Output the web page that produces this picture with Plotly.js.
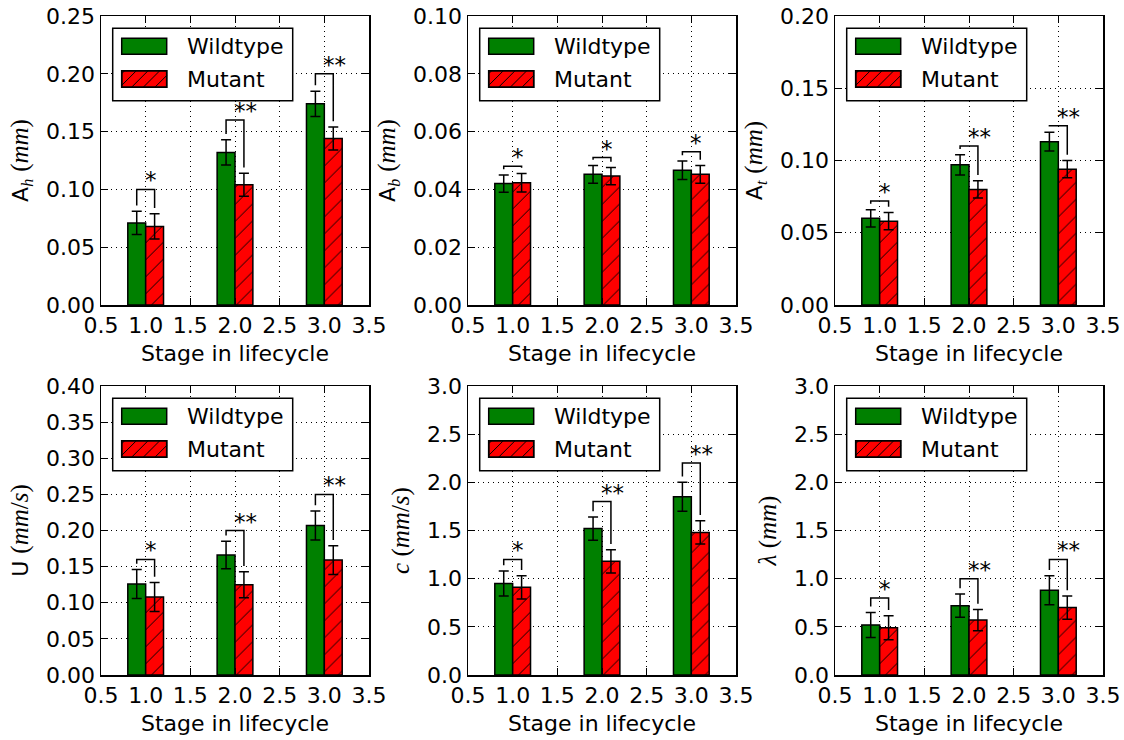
<!DOCTYPE html>
<html><head><meta charset="utf-8">
<script src="https://cdn.plot.ly/plotly-3.0.1.min.js"></script>
<style>html,body{margin:0;padding:0;background:#fff}</style>
</head><body><div id="chart" style="width:1124px;height:740px"></div>
<script>
// ---------------- data ----------------
const stages = [1, 2, 3];
const seriesNames = ['Wildtype', 'Mutant'];
const xTitle = 'Stage in lifecycle';

// Panel 1: A_h (mm)
const ahWild = [0.071, 0.132, 0.174];
const ahWildErr = [0.010, 0.011, 0.011];
const ahMut = [0.068, 0.104, 0.144];
const ahMutErr = [0.011, 0.010, 0.010];
const ahSig = ['*', '**', '**'];
const ahSigLevel = [0.100, 0.160, 0.200];

// Panel 2: A_b (mm)
const abWild = [0.0420, 0.0452, 0.0466];
const abWildErr = [0.0030, 0.0031, 0.0032];
const abMut = [0.0423, 0.0446, 0.0452];
const abMutErr = [0.0032, 0.0030, 0.0031];
const abSig = ['*', '*', '*'];
const abSigLevel = [0.048, 0.051, 0.053];

// Panel 3: A_t (mm)
const atWild = [0.060, 0.097, 0.113];
const atWildErr = [0.006, 0.007, 0.0065];
const atMut = [0.058, 0.080, 0.094];
const atMutErr = [0.006, 0.006, 0.006];
const atSig = ['*', '**', '**'];
const atSigLevel = [0.072, 0.110, 0.124];

// Panel 4: U (mm/s)
const uWild = [0.126, 0.166, 0.207];
const uWildErr = [0.020, 0.019, 0.020];
const uMut = [0.108, 0.125, 0.159];
const uMutErr = [0.020, 0.018, 0.020];
const uSig = ['*', '**', '**'];
const uSigLevel = [0.160, 0.200, 0.250];

// Panel 5: c (mm/s)
const cWild = [0.95, 1.52, 1.85];
const cWildErr = [0.13, 0.12, 0.15];
const cMut = [0.91, 1.18, 1.48];
const cMutErr = [0.12, 0.12, 0.12];
const cSig = ['*', '**', '**'];
const cSigLevel = [1.20, 1.80, 2.20];

// Panel 6: lambda (mm)
const lamWild = [0.52, 0.72, 0.88];
const lamWildErr = [0.13, 0.12, 0.15];
const lamMut = [0.49, 0.57, 0.70];
const lamMutErr = [0.125, 0.11, 0.12];
const lamSig = ['*', '**', '**'];
const lamSigLevel = [0.80, 1.00, 1.20];

// y-axis settings per panel
const yMax = [0.25, 0.10, 0.20, 0.40, 3.0, 3.0];
const yStep = [0.05, 0.02, 0.05, 0.05, 0.5, 0.5];
const yFormat = ['.2f', '.2f', '.2f', '.2f', '.1f', '.1f'];
const M = s => '<span style="font-family:\'Liberation Serif\';font-size:25px">' + s + '</span>';
const Sb = s => '<sub><span style="font-family:\'Liberation Serif\';font-size:16px"><i>' + s + '</i></span></sub>';
const yTitles = [
  'A' + Sb('h') + ' ' + M('(<i>mm</i>)'),
  'A' + Sb('b') + ' ' + M('(<i>mm</i>)'),
  'A' + Sb('t') + ' ' + M('(<i>mm</i>)'),
  'U ' + M('(<i>mm</i>/<i>s</i>)'),
  M('<i>c</i> (<i>mm</i>/<i>s</i>)'),
  M('<i>λ</i> (<i>mm</i>)')
];

const panels = [
  {wild: ahWild, wildErr: ahWildErr, mut: ahMut, mutErr: ahMutErr, sig: ahSig, lvl: ahSigLevel},
  {wild: abWild, wildErr: abWildErr, mut: abMut, mutErr: abMutErr, sig: abSig, lvl: abSigLevel},
  {wild: atWild, wildErr: atWildErr, mut: atMut, mutErr: atMutErr, sig: atSig, lvl: atSigLevel},
  {wild: uWild, wildErr: uWildErr, mut: uMut, mutErr: uMutErr, sig: uSig, lvl: uSigLevel},
  {wild: cWild, wildErr: cWildErr, mut: cMut, mutErr: cMutErr, sig: cSig, lvl: cSigLevel},
  {wild: lamWild, wildErr: lamWildErr, mut: lamMut, mutErr: lamMutErr, sig: lamSig, lvl: lamSigLevel}
];

// ---------------- layout ----------------
const W = 1124, H = 740;
const colsPx = [[101, 369], [468, 736], [835, 1103]];
const rowsPx = [[16, 305], [386, 675]];
const PW = 268, PH = 289;
const FONT = 'DejaVu Sans';
const FS = 22;
const GREEN = '#008000', RED = '#ff0000';

const traces = [];
const shapes = [];
const annotations = [];
const layout = {
  width: W, height: H,
  margin: {l: 0, r: 0, t: 0, b: 0},
  paper_bgcolor: 'white', plot_bgcolor: 'white',
  font: {family: FONT, size: FS, color: 'black'},
  barmode: 'group', bargap: 0.6, bargroupgap: 0,
  showlegend: false
};

function axisCommon() {
  return {
    showline: true, linecolor: 'black', linewidth: 1.5, mirror: 'ticks',
    ticks: 'inside', ticklen: 7, tickwidth: 1, tickcolor: 'black',
    showgrid: true, gridcolor: 'black', gridwidth: 1, griddash: '1px,4px',
    zeroline: false, tickfont: {family: FONT, size: FS, color: 'black'},
    fixedrange: true
  };
}

panels.forEach((p, i) => {
  const col = i % 3, row = Math.floor(i / 3);
  const sfx = i ? String(i + 1) : '';
  const xa = 'x' + sfx, ya = 'y' + sfx;
  traces.push({
    type: 'bar', name: seriesNames[0], x: stages, y: p.wild, xaxis: xa, yaxis: ya,
    marker: {color: GREEN, line: {color: 'black', width: 1.5}},
    error_y: {type: 'data', array: p.wildErr, visible: true, color: 'black', thickness: 1.5, width: 5}
  });
  traces.push({
    type: 'bar', name: seriesNames[1], x: stages, y: p.mut, xaxis: xa, yaxis: ya,
    marker: {color: RED, line: {color: 'black', width: 1.5},
      pattern: {shape: '/', fgcolor: 'black', bgcolor: RED, size: 12, solidity: 0.08, fillmode: 'replace'}},
    error_y: {type: 'data', array: p.mutErr, visible: true, color: 'black', thickness: 1.5, width: 5}
  });

  layout['xaxis' + sfx] = Object.assign(axisCommon(), {
    domain: [colsPx[col][0] / W, colsPx[col][1] / W], anchor: ya,
    range: [0.5, 3.5], tick0: 0.5, dtick: 0.5, tickformat: '.1f',
    title: {text: xTitle, font: {family: FONT, size: FS}, standoff: 8}
  });
  layout['yaxis' + sfx] = Object.assign(axisCommon(), {
    domain: [1 - rowsPx[row][1] / H, 1 - rowsPx[row][0] / H], anchor: xa,
    range: [0, yMax[i]], tick0: 0, dtick: yStep[i], tickformat: yFormat[i],
    title: {text: yTitles[i], font: {family: FONT, size: FS}, standoff: 11}
  });

  // significance brackets
  const gapV = yMax[i] * 0.02;
  stages.forEach((s, j) => {
    const xL = s - 0.1, xR = s + 0.1;
    const L = p.lvl[j];
    const yA = Math.min(p.wild[j] + p.wildErr[j] + gapV, L);
    const yB = Math.min(p.mut[j] + p.mutErr[j] + gapV, L);
    shapes.push({type: 'path', xref: xa, yref: ya,
      path: `M ${xL},${yA} L ${xL},${L} L ${xR},${L} L ${xR},${yB}`,
      line: {color: 'black', width: 1.5}});
    annotations.push({xref: xa, yref: ya, x: s, y: L, text: p.sig[j], showarrow: false,
      xanchor: 'left', yanchor: 'bottom', xshift: -3, yshift: -6,
      font: {family: FONT, size: FS + 1, color: 'black'}});
  });

  // legend (drawn per panel)
  const xd = xa + ' domain', yd = ya + ' domain';
  const fx = v => v / PW, fy = v => 1 - v / PH;
  shapes.push({type: 'rect', xref: xd, yref: yd, x0: fx(11.7), x1: fx(191.7), y0: fy(12.3), y1: fy(84.7),
    line: {color: 'black', width: 1.5}, fillcolor: 'white', layer: 'above'});
  shapes.push({type: 'rect', xref: xd, yref: yd, x0: fx(20.7), x1: fx(65.7), y0: fy(22.3), y1: fy(38.3),
    line: {color: 'black', width: 1.5}, fillcolor: GREEN, layer: 'above'});
  shapes.push({type: 'rect', xref: xd, yref: yd, x0: fx(20.7), x1: fx(65.7), y0: fy(54.7), y1: fy(71.3),
    line: {color: 'black', width: 1.5}, fillcolor: RED, layer: 'above'});
  // hatch in mutant patch
  const px0 = 20.7, px1 = 65.7, pyt = 54.7, pyb = 71.3, hw = px1 - px0, hh = pyb - pyt;
  let hp = '';
  for (let c = -hh + 3; c < hw; c += 11.7) {
    const s0 = Math.max(0, -c), s1 = Math.min(hh, hw - c);
    if (s1 <= s0) continue;
    hp += `M ${fx(px0 + c + s0)},${fy(pyb - s0)} L ${fx(px0 + c + s1)},${fy(pyb - s1)} `;
  }
  shapes.push({type: 'path', xref: xd, yref: yd, path: hp, line: {color: 'black', width: 1}, layer: 'above'});
  shapes.push({type: 'rect', xref: xd, yref: yd, x0: fx(20.7), x1: fx(65.7), y0: fy(54.7), y1: fy(71.3),
    line: {color: 'black', width: 1.5}, layer: 'above'});
  annotations.push({xref: xd, yref: yd, x: fx(84), y: fy(30), text: seriesNames[0], showarrow: false,
    xanchor: 'left', yanchor: 'middle', font: {family: FONT, size: FS, color: 'black'}});
  annotations.push({xref: xd, yref: yd, x: fx(84), y: fy(63), text: seriesNames[1], showarrow: false,
    xanchor: 'left', yanchor: 'middle', font: {family: FONT, size: FS, color: 'black'}});
});

layout.shapes = shapes;
layout.annotations = annotations;

Plotly.newPlot('chart', traces, layout, {staticPlot: true, displayModeBar: false});
</script>
</body></html>
